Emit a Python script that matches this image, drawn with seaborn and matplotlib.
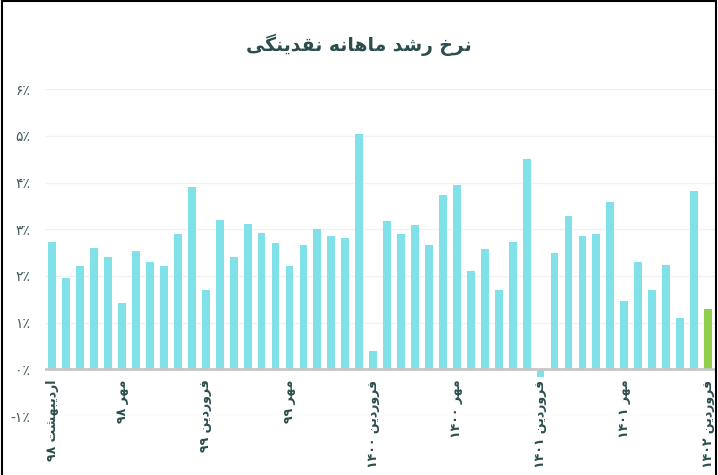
import numpy as np
import pandas as pd
import matplotlib
matplotlib.use("Agg")
import matplotlib.pyplot as plt
import matplotlib.transforms as mtransforms
from matplotlib.patches import Rectangle
import seaborn as sns

# ---------------- data ----------------
growth = [2.73, 1.95, 2.21, 2.61, 2.41, 1.43, 2.53, 2.31, 2.21, 2.90,
          3.91, 1.70, 3.21, 2.41, 3.11, 2.93, 2.70, 2.21, 2.67, 3.00,
          2.85, 2.81, 5.04, 0.40, 3.17, 2.91, 3.09, 2.66, 3.73, 3.94,
          2.10, 2.58, 1.69, 2.72, 4.51, -0.17, 2.50, 3.28, 2.85, 2.89,
          3.58, 1.47, 2.29, 1.70, 2.23, 1.09, 3.83, 1.29]
tick_pos = [0, 5, 11, 17, 23, 29, 35, 41, 47]
tick_labels = ["اردیبهشت ۹۸", "مهر ۹۸", "فروردین ۹۹", "مهر ۹۹", "فروردین ۱۴۰۰",
               "مهر ۱۴۰۰", "فروردین ۱۴۰۱", "مهر ۱۴۰۱", "فروردین ۱۴۰۲"]
ytick_vals = [-1, 0, 1, 2, 3, 4, 5, 6]
ytick_labels = ["-۱٪", "۰٪", "۱٪", "۲٪", "۳٪", "۴٪", "۵٪", "۶٪"]
title = "نرخ رشد ماهانه نقدینگی"

# ------------- minimal Persian shaping (presentation forms + RTL order) -------------
FORMS = {
    'ا': (0xFE8D, 0xFE8E, None, None),
    'ب': (0xFE8F, 0xFE90, 0xFE91, 0xFE92),
    'ت': (0xFE95, 0xFE96, 0xFE97, 0xFE98),
    'خ': (0xFEA5, 0xFEA6, 0xFEA7, 0xFEA8),
    'د': (0xFEA9, 0xFEAA, None, None),
    'ر': (0xFEAD, 0xFEAE, None, None),
    'ش': (0xFEB5, 0xFEB6, 0xFEB7, 0xFEB8),
    'ف': (0xFED1, 0xFED2, 0xFED3, 0xFED4),
    'ق': (0xFED5, 0xFED6, 0xFED7, 0xFED8),
    'م': (0xFEE1, 0xFEE2, 0xFEE3, 0xFEE4),
    'ن': (0xFEE5, 0xFEE6, 0xFEE7, 0xFEE8),
    'ه': (0xFEE9, 0xFEEA, 0xFEEB, 0xFEEC),
    'و': (0xFEED, 0xFEEE, None, None),
    'ی': (0xFBFC, 0xFBFD, 0xFBFE, 0xFBFF),
    'گ': (0xFB92, 0xFB93, 0xFB94, 0xFB95),
}


def shape_word(w):
    out = []
    for i, ch in enumerate(w):
        if ch not in FORMS:
            out.append(ch)
            continue
        prev = w[i - 1] if i > 0 else None
        nxt = w[i + 1] if i + 1 < len(w) else None
        jp = prev in FORMS and FORMS[prev][2] is not None
        jn = FORMS[ch][2] is not None and nxt in FORMS
        iso, fin, ini, med = FORMS[ch]
        if jp and jn:
            c = med
        elif jp:
            c = fin
        elif jn:
            c = ini
        else:
            c = iso
        out.append(chr(c))
    return "".join(out)


def rtl(s):
    toks = []
    for t in s.split(" "):
        if all(ch in "۰۱۲۳۴۵۶۷۸۹" for ch in t):
            toks.append(t)
        else:
            toks.append(shape_word(t)[::-1])
    return " ".join(toks[::-1])


# ---------------- plot ----------------
sns.set_theme(style="white")
plt.rcParams['font.family'] = ['DejaVu Sans']

fig = plt.figure(figsize=(7.18, 4.75), dpi=100)
ax = fig.add_axes([0.0631, 0.1242, 0.9327, 0.6878])

n = len(growth)
df = pd.DataFrame({"idx": np.arange(n), "growth": growth})
colors = ["#80e1e8"] * (n - 1) + ["#90cf4e"]
sns.barplot(data=df, x="idx", y="growth", hue="idx", palette=colors,
            legend=False, width=0.56, edgecolor="none", saturation=1, ax=ax, zorder=3)

ax.set_xlim(-0.5, n - 0.5)
ax.set_ylim(-1, 6)
ax.set_yticks(ytick_vals)
ax.set_yticklabels(ytick_labels, color="#3e5c5c", fontsize=10)
ax.tick_params(axis="y", length=0, pad=11)
ax.set_xticks([])
ax.set_xlabel("")
ax.set_ylabel("")
for s in ax.spines.values():
    s.set_visible(False)
ax.grid(axis="y", color="#f1f1f1", linewidth=1, zorder=0)
ax.axhline(0, color="#c6c6c6", linewidth=2, zorder=4)

trans = mtransforms.blended_transform_factory(ax.transData, ax.transData)
for p, lab in zip(tick_pos, tick_labels):
    ax.text(p, -0.22, rtl(lab), rotation=90, ha="center", va="top",
            fontsize=9, fontweight="bold", color="#2b4d4d", transform=trans,
            zorder=5, clip_on=False)

fig.text(0.5, 0.905, rtl(title), ha="center", va="center", fontsize=13.5,
         fontweight="bold", color="#2b4d4d")

fig.patches.append(Rectangle((0.003, -0.01), 0.994, 1.007, transform=fig.transFigure,
                             fill=False, edgecolor="black", linewidth=1.5))

fig.savefig("out.png", dpi=100)
